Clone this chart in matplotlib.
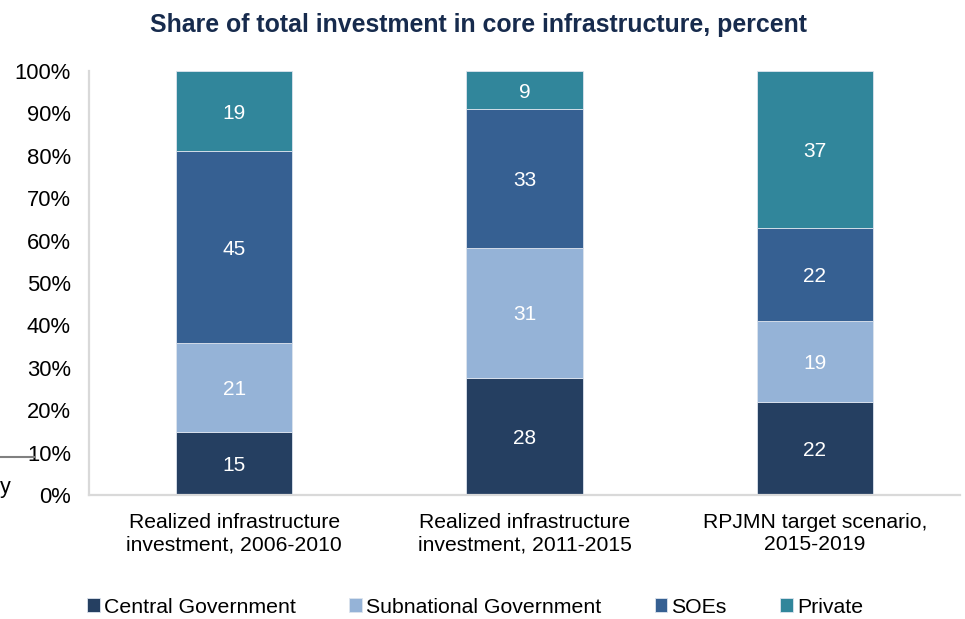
import matplotlib.pyplot as plt
import matplotlib.ticker as ticker
import numpy as np

plt.rcParams['font.family'] = ['Liberation Sans', 'DejaVu Sans']

categories = ['Realized infrastructure\ninvestment, 2006-2010',
              'Realized infrastructure\ninvestment, 2011-2015',
              'RPJMN target scenario,\n2015-2019']
series_names = ['Central Government', 'Subnational Government', 'SOEs', 'Private']
central = [14.9, 27.6, 21.9]
subnational = [20.9, 30.7, 19.1]
soes = [45.3, 32.7, 22.0]
private = [18.9, 9.0, 37.0]
central_labels = [15, 28, 22]
subnational_labels = [21, 31, 19]
soes_labels = [45, 33, 22]
private_labels = [19, 9, 37]

colors = ['#253f61', '#95b3d7', '#366092', '#31869b']

fig = plt.figure(figsize=(9.65, 6.19), dpi=100)
ax = fig.add_axes([0.0922, 0.2003, 0.9026, 0.685])

x = np.arange(len(categories))
bottom = np.zeros(len(categories))
series = [central, subnational, soes, private]
labels = [central_labels, subnational_labels, soes_labels, private_labels]
for vals, labs, col, name in zip(series, labels, colors, series_names):
    vals = np.array(vals)
    ax.bar(x, vals, 0.4, bottom=bottom, color=col, edgecolor='#dde4ee',
           linewidth=0.6, label=name)
    for xi, v, b, lab in zip(x, vals, bottom, labs):
        ax.text(xi, b + v / 2, str(lab), ha='center', va='center_baseline',
                color='white', fontsize=15)
    bottom += vals

ax.set_xlim(-0.5, 2.5)
ax.set_ylim(0, 100)
ax.set_yticks(range(0, 101, 10))
ax.yaxis.set_major_formatter(ticker.FuncFormatter(lambda v, p: '%d%%' % v))
ax.set_xticks(x)
ax.set_xticklabels(categories, fontsize=15.2, linespacing=1.2)
ax.tick_params(axis='y', length=0, pad=13, labelsize=15.8)
ax.tick_params(axis='x', length=0, pad=13)
for s in ['top', 'right']:
    ax.spines[s].set_visible(False)
for s in ['left', 'bottom']:
    ax.spines[s].set_color('#d9d9d9')
    ax.spines[s].set_linewidth(1.6)

fig.suptitle('Share of total investment in core infrastructure, percent',
             x=0.496, y=0.979, fontsize=17.9, fontweight='bold', color='#172b4d')

fig.legend(loc='lower center', bbox_to_anchor=(0.4924, -0.027), ncol=4, frameon=False,
           fontsize=15.3, handlelength=0.6, handleheight=0.6, handletextpad=0.2,
           columnspacing=2.5)

# leftover marks from the cropped source
fig.add_artist(plt.Line2D([0, 0.035], [1 - 457 / 619, 1 - 457 / 619],
                          color='#808080', lw=1.5))
fig.text(0.0, 1 - 487 / 619, 'y', fontsize=15.5, va='center', ha='left')

plt.savefig('out.png')
